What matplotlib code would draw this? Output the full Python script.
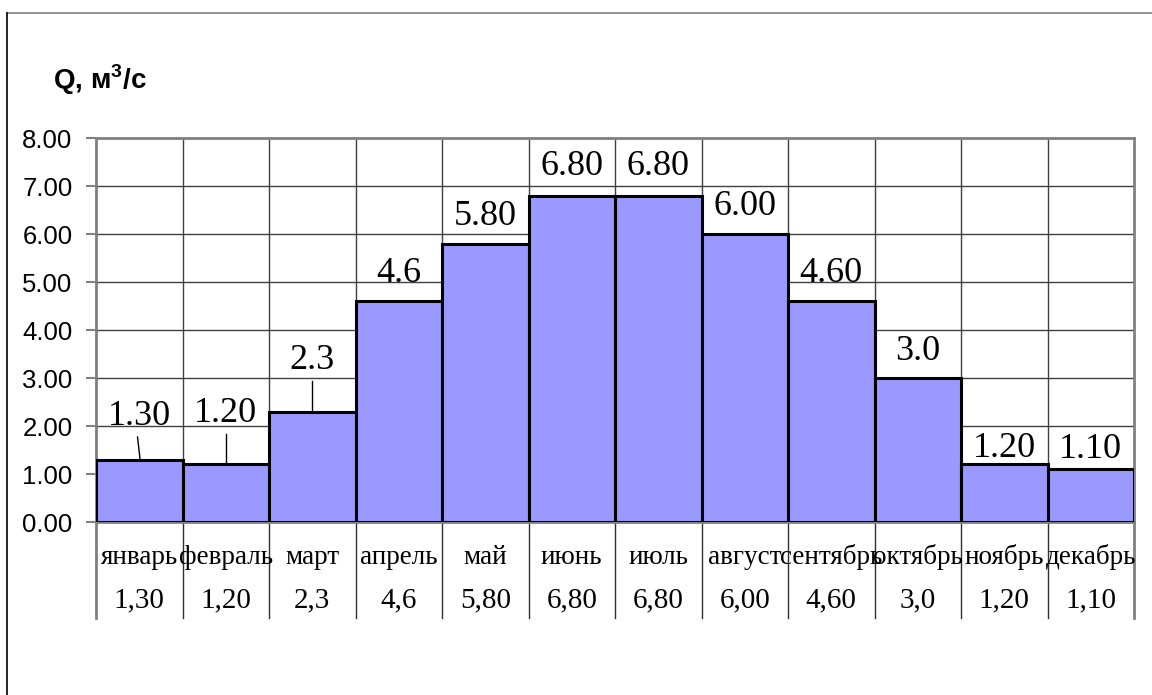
import numpy as np
import matplotlib
matplotlib.use("Agg")
import matplotlib.pyplot as plt
from matplotlib.lines import Line2D

plt.rcParams["mathtext.fontset"] = "custom"
plt.rcParams["mathtext.rm"] = "Liberation Sans"
plt.rcParams["mathtext.bf"] = "Liberation Sans:bold"

# monthly mean discharge
months = ["январь", "февраль", "март", "апрель", "май", "июнь",
          "июль", "август", "сентябрь", "октябрь", "ноябрь", "декабрь"]
discharge = [1.30, 1.20, 2.3, 4.6, 5.80, 6.80, 6.80, 6.00, 4.60, 3.0, 1.20, 1.10]
decimals = [2, 2, 1, 1, 2, 2, 2, 2, 2, 1, 2, 2]

# how far each label baseline sits above its bar (in m3/s)
label_lift = [0.72, 0.88, 0.89, 0.40, 0.39, 0.43, 0.43, 0.40, 0.40, 0.375, 0.15, 0.23]
# labels lifted far enough get a leader line down to the bar
leader_top = {0: 1.77, 1: 1.83, 2: 2.94}
leader_dx = {0: (-0.02, 0.01), 1: (0.0, 0.0), 2: (0.0, 0.0)}

bar_labels = [f"{v:.{d}f}" for v, d in zip(discharge, decimals)]
table_labels = [s.replace(".", ",") for s in bar_labels]

W, H = 1152, 695
fig = plt.figure(figsize=(W / 100, H / 100), dpi=100)
fig.patch.set_facecolor("white")

# chart-area frame (top and left edges only)
fig.add_artist(Line2D([7 / W, 1.0], [1 - 13 / H, 1 - 13 / H], color="#808080", lw=1.2))
fig.add_artist(Line2D([7 / W, 7 / W], [0.0, 1 - 13 / H], color="black", lw=1.2))

x0, x1, y0, y1 = 96, 1134, 138, 522
ax = fig.add_axes([x0 / W, 1 - y1 / H, (x1 - x0) / W, (y1 - y0) / H])

n = len(discharge)
x = np.arange(n)

ax.bar(x, discharge, width=1.0, align="edge", color="#9999FF",
       edgecolor="black", linewidth=2.2, zorder=3)

ax.set_xlim(0, n)
ax.set_ylim(0, 8)
ax.set_yticks(np.arange(0, 9, 1))
ax.set_yticklabels([f"{t:.2f}" for t in range(9)], fontsize=18.5,
                   family="Liberation Sans")
ax.tick_params(axis="y", length=7, width=1.5, color="#808080", pad=10)
ax.set_xticks([])

# grid: horizontal at every unit, vertical at month boundaries
for t in range(1, 8):
    ax.axhline(t, color="#404040", lw=1.0, zorder=1)
for b in range(1, n):
    ax.axvline(b, color="#404040", lw=1.0, zorder=1)

for side in ["top", "right", "left", "bottom"]:
    ax.spines[side].set_color("#808080")
    ax.spines[side].set_linewidth(2)

# value labels above bars
for i, (v, s) in enumerate(zip(discharge, bar_labels)):
    ax.text(i + 0.5, v + label_lift[i], s, ha="center", va="baseline",
            fontsize=26, family="Liberation Serif", zorder=4)
    if i in leader_top:
        dx_top, dx_bot = leader_dx[i]
        ax.plot([i + 0.5 + dx_top, i + 0.5 + dx_bot], [leader_top[i], v],
                color="black", lw=1.0, zorder=4)

# data table under the axis
xt = ax.get_xaxis_transform()
tab_bottom = -(618 - 522) / (y1 - y0)
for b in range(0, n + 1):
    col = "#808080" if b in (0, n) else "#303030"
    lw = 2 if b in (0, n) else 1
    ax.plot([b, b], [0, tab_bottom], transform=xt, color=col, lw=lw,
            clip_on=False, zorder=2)
for i in range(n):
    ax.text(i + 0.5, -(557 - 522) / (y1 - y0), months[i], transform=xt,
            ha="center", va="center", fontsize=19.5, family="Liberation Serif")
    ax.text(i + 0.5, -(600 - 522) / (y1 - y0), table_labels[i], transform=xt,
            ha="center", va="center", fontsize=21, family="Liberation Serif")

# axis title
fig.text(53 / W, 1 - 89 / H, r"Q, м$^{\mathbf{3}}$/с", ha="left", va="baseline",
         fontsize=20, fontweight="bold", family="Liberation Sans")

fig.savefig("out.png", dpi=100)
